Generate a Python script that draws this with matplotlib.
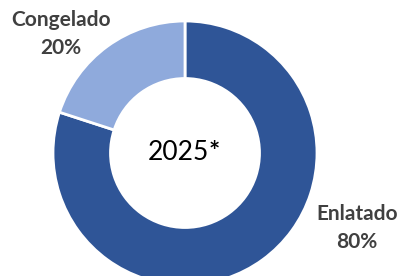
import matplotlib
matplotlib.use("Agg")
import matplotlib.pyplot as plt

# values
labels = ["Enlatado", "Congelado"]
shares = [80, 20]
colors = ["#2F5597", "#8FAADC"]
center_label = "2025"

W, H = 404, 276
fig = plt.figure(figsize=(W / 100, H / 100), dpi=100)
ax = fig.add_axes([0, 0, 1, 1])

cx, cy, r_out, r_in = 185, H - 153, 132, 74.5
ax.pie(shares, colors=colors, startangle=90, counterclock=False,
       radius=r_out, center=(cx, cy),
       wedgeprops=dict(width=r_out - r_in, edgecolor="white", linewidth=2))

ax.set_xlim(0, W)
ax.set_ylim(0, H)
ax.set_aspect("equal")
ax.axis("off")

txt = dict(family="Lato", fontweight="bold", color="#404040", fontsize=15,
           ha="center", va="center", linespacing=1.45)
ax.text(61, H - 34, f"{labels[1]}\n{shares[1]}%", **txt)
ax.text(357, H - 228, f"{labels[0]}\n{shares[0]}%", **txt)
ax.text(cx + 24, H - 152, center_label, family="Lato", fontsize=19,
        color="black", ha="right", va="center")
ax.text(cx + 24, H - 152, "*", family="Lato", fontsize=19, fontweight="bold",
        color="black", ha="left", va="center")

fig.savefig("out.png", dpi=100)
